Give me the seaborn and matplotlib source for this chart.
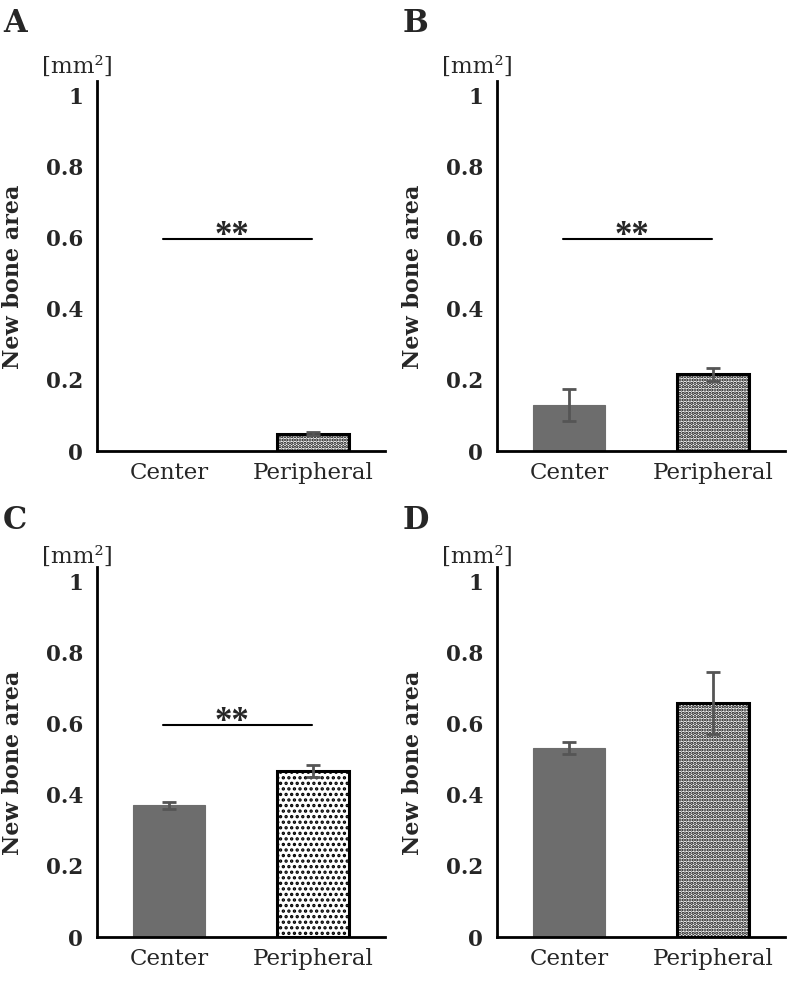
import matplotlib
matplotlib.use("Agg")
import matplotlib.pyplot as plt
import seaborn as sns
import pandas as pd

sns.set_theme(style="white")
plt.rcParams['font.family'] = ['DejaVu Serif', 'Liberation Serif']
plt.rcParams['hatch.linewidth'] = 1.6

categories = ["Center", "Peripheral"]
panel_letters = ["A", "B", "C", "D"]
means_A = [0.0, 0.048]
errs_A = [0.0, 0.004]
means_B = [0.13, 0.215]
errs_B = [0.045, 0.017]
means_C = [0.37, 0.466]
errs_C = [0.01, 0.016]
means_D = [0.53, 0.657]
errs_D = [0.017, 0.088]
significant = [True, True, True, False]
sig_level = 0.595
yticks = [0, 0.2, 0.4, 0.6, 0.8, 1]
ytick_labels = ["0", "0.2", "0.4", "0.6", "0.8", "1"]
ylabel = "New bone area"
unit_label = "[mm\u00b2]"

all_means = [means_A, means_B, means_C, means_D]
all_errs = [errs_A, errs_B, errs_C, errs_D]
hatches = ['.....', '.....', '...', '.....']

W, H = 792, 981
fig = plt.figure(figsize=(W / 100, H / 100), dpi=100)

# axes geometry in pixels: (left, y0 pixel, letter baseline, unit baseline)
geom = [(97, 451, 32, 73), (497, 451, 32, 73), (97, 937, 529, 563), (497, 937, 529, 563)]
px_per_unit = 356
ytop = 1.04
axw = 288

for i in range(4):
    left, y0, let_base, unit_base = geom[i]
    axh = ytop * px_per_unit
    ax = fig.add_axes([left / W, 1 - y0 / H, axw / W, axh / H])
    df = pd.DataFrame({"cat": categories, "val": all_means[i]})
    sns.barplot(data=df, x="cat", y="val", hue="cat", order=categories,
                palette={"Center": "#6d6d6d", "Peripheral": "white"},
                legend=False, errorbar=None, width=0.5, ax=ax)
    for j, p in enumerate(ax.patches):
        if j == 0:
            p.set_edgecolor("#6d6d6d")
            p.set_linewidth(0.8 if all_means[i][j] > 0 else 0)
        else:
            p.set_facecolor("white")
            p.set_edgecolor("black")
            p.set_linewidth(2.2)
            p.set_hatch(hatches[i])
    idx = [k for k in range(len(categories)) if all_errs[i][k] > 0]
    ax.errorbar(idx, [all_means[i][k] for k in idx],
                yerr=[all_errs[i][k] for k in idx],
                fmt="none", ecolor="#555555", elinewidth=2, capsize=5,
                capthick=2, zorder=5)
    ax.set_xlim(-0.5, 1.5)
    ax.set_ylim(0, ytop)
    ax.set_yticks(yticks)
    ax.set_yticklabels(ytick_labels, fontsize=15.5, fontweight="bold")
    ax.set_xticks(range(len(categories)))
    ax.set_xticklabels(categories, fontsize=16.5)
    ax.tick_params(axis="both", length=0)
    ax.tick_params(axis="y", pad=10)
    ax.tick_params(axis="x", pad=8)
    ax.set_xlabel("")
    ax.set_ylabel(ylabel, fontsize=16, fontweight="bold")
    ax.yaxis.set_label_coords(-0.255, 0.47)
    for s in ["top", "right"]:
        ax.spines[s].set_visible(False)
    for s in ["left", "bottom"]:
        ax.spines[s].set_color("black")
        ax.spines[s].set_linewidth(2)
    if significant[i]:
        ax.plot([-0.04, 0.99], [sig_level, sig_level], color="black", lw=1.5)
        ax.text(0.44, sig_level - 0.017, "**", ha="center", va="baseline",
                fontsize=25, fontweight="bold", family="Liberation Serif")
    # panel letter and unit
    fig.text((left - 94) / W, 1 - let_base / H, panel_letters[i],
             fontsize=22, fontweight="bold", ha="left", va="baseline")
    fig.text((left - 55) / W, 1 - unit_base / H, unit_label,
             fontsize=16.5, ha="left", va="baseline")

fig.savefig("out.png", dpi=100, facecolor="white")
